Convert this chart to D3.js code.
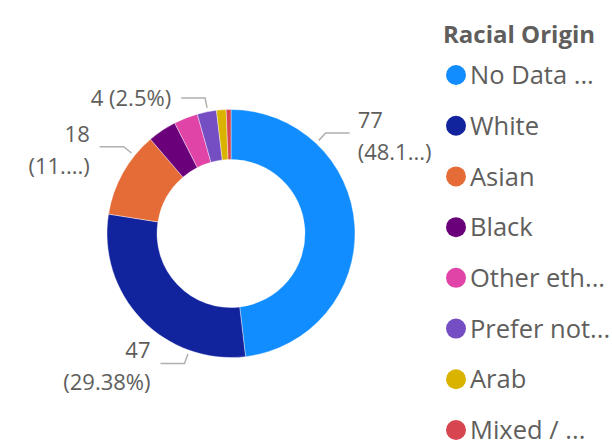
<!DOCTYPE html>
<html>
<head>
<meta charset="utf-8">
<script src="https://cdn.jsdelivr.net/npm/d3@7"></script>
<style>
  html, body { margin: 0; padding: 0; background: #fff; }
  svg { display: block; }
  text { font-family: "Open Sans", "Noto Sans", sans-serif; fill: #605E5C; }
</style>
</head>
<body>
<script>
const width = 612,
	height = 446

// data
const categories = ["No Data ...", "White", "Asian", "Black", "Other eth...", "Prefer not...", "Arab", "Mixed / ..."]
const counts = [77, 47, 18, 6, 5, 4, 2, 1]
const colors = ["#118DFF", "#12239E", "#E66C37", "#6B007B", "#E044A7", "#744EC2", "#D9B300", "#D64550"]
const legendTitle = "Racial Origin"

// which slices carry a data label, where on the slice the leader sits (0..1), side, truncation
const labelSlices = [0, 1, 2, 5]
const labelPos = [0.25, 0.25, 0.74, 0.55]
const labelWrap = [true, true, true, false]
const labelMaxChars = [4, 99, 3, 99]

const cx = 231, cy = 233.5
const outerR = 124, innerR = 74

const total = d3.sum(counts)
const pct = d3.format(".2~%")

const svg = d3.select("body")
	.append("svg")
	.attr("width", width)
	.attr("height", height)

const pie = d3.pie().sort(null).value(d => d)
const arcs = pie(counts)

const arc = d3.arc()
	.innerRadius(innerR)
	.outerRadius(outerR)

const chart = svg.append("g")
	.attr("transform", `translate(${cx},${cy})`)

chart.selectAll("path.slice")
	.data(arcs)
	.join("path")
	.attr("class", "slice")
	.attr("d", arc)
	.attr("fill", (d, i) => colors[i])
	.attr("stroke", "#fff")
	.attr("stroke-width", 0.4)

// point at radius r and angle a (clockwise from 12 o'clock)
const polar = (r, a) => [r * Math.sin(a), -r * Math.cos(a)]

const truncate = (s, n) => s.length > n ? s.slice(0, n) + "..." : s

labelSlices.forEach((si, k) => {
	const d = arcs[si]
	const a = d.startAngle + (d.endAngle - d.startAngle) * labelPos[k]
	const p0 = polar(outerR + 4, a)
	const p1 = polar(outerR + 14, a)
	const right = Math.sin(a) > 0
	const p2 = [p1[0] + (right ? 24 : -24), p1[1]]

	chart.append("polyline")
		.attr("points", [p0, p1, p2].map(p => p.join(",")).join(" "))
		.attr("fill", "none")
		.attr("stroke", "#B3B0AD")
		.attr("stroke-width", 1.5)

	const v = counts[si]
	const pText = "(" + truncate(pct(v / total).replace("%", labelMaxChars[k] < 99 ? "" : "%"), labelMaxChars[k]) + ")"
	const tx = p2[0] + (right ? 8 : -10)
	const t = chart.append("text")
		.attr("text-anchor", right ? "start" : "end")
		.style("font-size", "22px")

	if (labelWrap[k]) {
		t.append("tspan").attr("x", tx).attr("y", p1[1] - 5).text(v)
		t.append("tspan").attr("x", tx).attr("y", p1[1] + 27).text(pText)
	} else {
		t.append("tspan").attr("x", tx).attr("y", p1[1] + 8).text(`${v} ${pText}`)
	}
})

// legend
const legend = svg.append("g")

legend.append("text")
	.attr("x", 443)
	.attr("y", 43)
	.style("font-size", "24px")
	.style("font-weight", "bold")
	.text(legendTitle)

const rowY = d3.scalePoint()
	.domain(categories)
	.range([75, 430])

const item = legend.selectAll("g.item")
	.data(categories)
	.join("g")
	.attr("class", "item")
	.attr("transform", d => `translate(0,${rowY(d)})`)

item.append("circle")
	.attr("cx", 456)
	.attr("cy", 0)
	.attr("r", 10)
	.attr("fill", (d, i) => colors[i])

item.append("text")
	.attr("x", 470)
	.attr("y", 0)
	.attr("dy", "0.36em")
	.style("font-size", "25.5px")
	.text(d => d)
</script>
</body>
</html>
